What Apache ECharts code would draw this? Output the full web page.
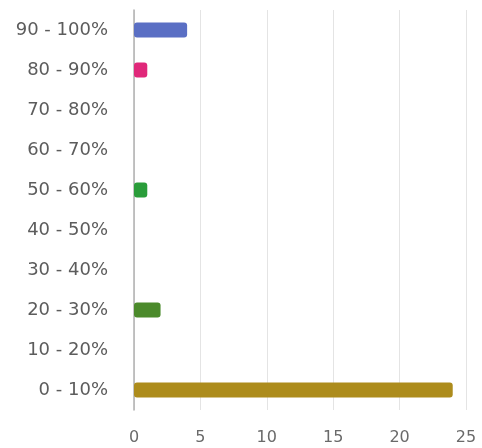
<!DOCTYPE html>
<html>
<head>
<meta charset="utf-8">
<script src="https://cdn.jsdelivr.net/npm/echarts@6/dist/echarts.min.js"></script>
<style>
  html, body { margin: 0; padding: 0; background: #fff; }
  #chart { width: 482px; height: 448px; }
</style>
</head>
<body>
<div id="chart"></div>
<script>
// Score bands, bottom to top
const categories = ['0 - 10%', '10 - 20%', '20 - 30%', '30 - 40%', '40 - 50%',
                    '50 - 60%', '60 - 70%', '70 - 80%', '80 - 90%', '90 - 100%'];
// Number of results in each band
const counts = [24, 0, 2, 0, 0, 1, 0, 0, 1, 4];
// Fill colour per band
const bandColors = ['#ad8c1c', '#9e9e9e', '#4b8a2b', '#9e9e9e', '#9e9e9e',
                    '#2a9d3a', '#9e9e9e', '#9e9e9e', '#e0287a', '#5a6fc4'];
const xTicks = [0, 5, 10, 15, 20, 25];

const chart = echarts.init(document.getElementById('chart'));
chart.setOption({
  animation: false,
  grid: { left: 134, right: 16, top: 10, bottom: 38 },
  xAxis: {
    type: 'value',
    min: xTicks[0],
    max: xTicks[xTicks.length - 1],
    interval: xTicks[1] - xTicks[0],
    axisLine: { show: false },
    axisTick: { show: false },
    splitLine: { lineStyle: { color: '#e4e4e4', width: 1 } },
    axisLabel: { color: '#6a6a6a', fontSize: 16, fontFamily: 'DejaVu Sans', margin: 20 }
  },
  yAxis: {
    type: 'category',
    data: categories,
    axisLine: { lineStyle: { color: '#b0b0b0', width: 1.5 } },
    axisTick: { show: false },
    axisLabel: { color: '#5c5c5c', fontSize: 18, fontFamily: 'DejaVu Sans', margin: 26 }
  },
  series: [{
    type: 'bar',
    barWidth: 15,
    data: counts.map((v, i) => ({
      value: v,
      itemStyle: { color: bandColors[i], borderRadius: 3 }
    }))
  }]
});
</script>
</body>
</html>
